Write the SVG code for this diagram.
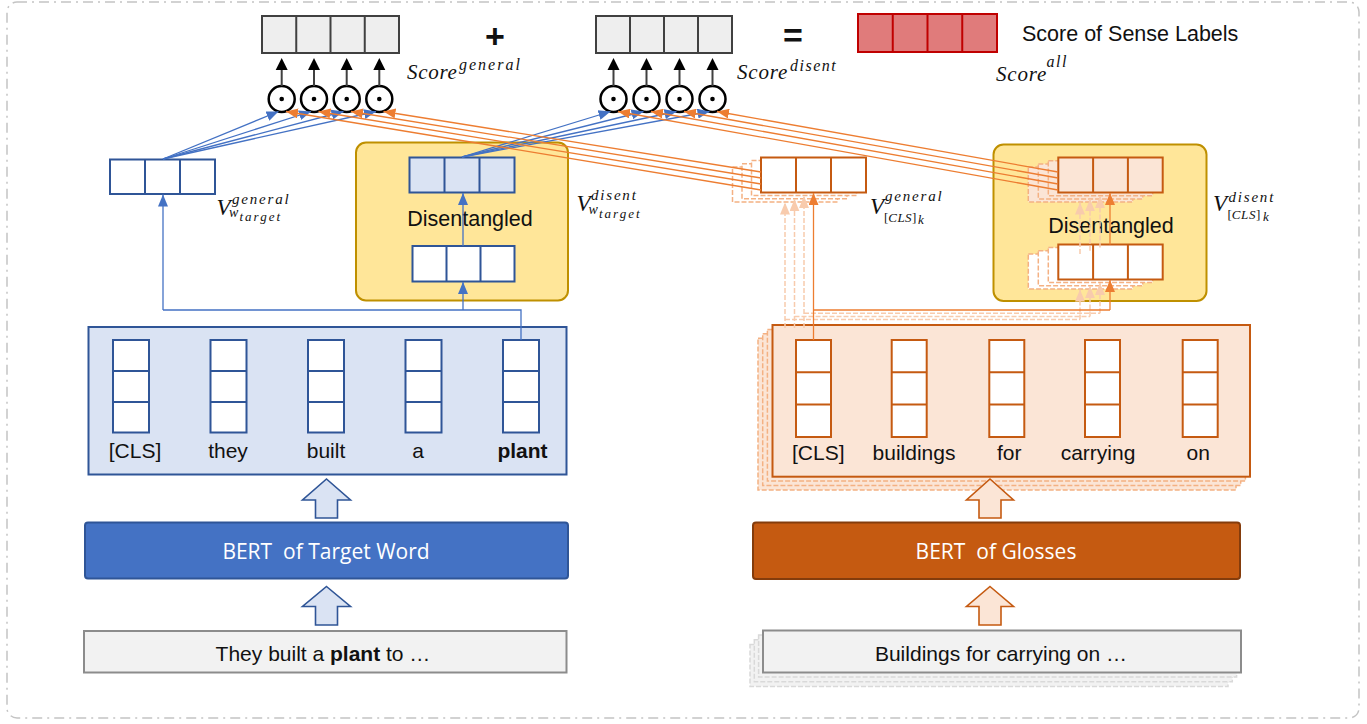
<svg xmlns="http://www.w3.org/2000/svg" width="1367" height="724" viewBox="0 0 1367 724">
<style>
.sans{font-family:"Liberation Sans",Arial,sans-serif;fill:#111}
.m{font-family:"Liberation Serif","Times New Roman",serif;font-style:italic;fill:#111}
.up{font-style:normal}
.bert{font-family:"Open Sans","Noto Sans",sans-serif;fill:#fff;font-size:21px}
.bcell{fill:#fff;stroke:#2F5597;stroke-width:2}
.ocell{fill:#fff;stroke:#C55A11;stroke-width:2}
.sdash{stroke:#F4B183;stroke-width:1.5;stroke-dasharray:5 2}
.score{fill:#EEEEEE;stroke:#404040;stroke-width:2}
.circ{fill:#fff;stroke:#000;stroke-width:2.5}
.bl{fill:none;stroke:#4472C4;stroke-width:1.3}
.ol{fill:none;stroke:#ED7D31;stroke-width:1.3}
.odl{fill:none;stroke:#F8CBAD;stroke-width:1.5;stroke-dasharray:5 2}
</style>
<defs>
<marker id="mb" viewBox="0 0 12 10" refX="12" refY="5" markerWidth="12" markerHeight="10" markerUnits="userSpaceOnUse" orient="auto"><path d="M0,0 L12,5 L0,10 z" fill="#4472C4"/></marker>
<marker id="mo" viewBox="0 0 12 10" refX="12" refY="5" markerWidth="12" markerHeight="10" markerUnits="userSpaceOnUse" orient="auto"><path d="M0,0 L12,5 L0,10 z" fill="#ED7D31"/></marker>
<marker id="mol" viewBox="0 0 12 10" refX="12" refY="5" markerWidth="12" markerHeight="10" markerUnits="userSpaceOnUse" orient="auto"><path d="M0,0 L12,5 L0,10 z" fill="#F8CBAD"/></marker>
</defs>

<rect x="7" y="2" width="1352" height="716" rx="10" fill="none" stroke="#C4C4C4" stroke-width="1.5" stroke-dasharray="10 5 2 5"/>

<g id="score-general">
<rect class="score" x="262" y="16" width="137" height="37"/>
<path d="M296.25,16V53M330.5,16V53M364.75,16V53" stroke="#404040" stroke-width="2"/>
<text class="m"><tspan x="407" y="79" font-size="21" letter-spacing="0.7">Score</tspan><tspan x="459" y="70" font-size="16" letter-spacing="2">general</tspan></text>
</g>
<g id="dots-general">
<circle class="circ" cx="281.7" cy="99" r="13"/><circle cx="281.7" cy="99" r="2.3"/>
<circle class="circ" cx="314" cy="99" r="13"/><circle cx="314" cy="99" r="2.3"/>
<circle class="circ" cx="346.7" cy="99" r="13"/><circle cx="346.7" cy="99" r="2.3"/>
<circle class="circ" cx="379.3" cy="99" r="13"/><circle cx="379.3" cy="99" r="2.3"/>
</g>
<text class="sans" x="495" y="48" font-size="34" font-weight="bold" text-anchor="middle">+</text>

<g id="score-disent">
<rect class="score" x="596" y="16" width="136" height="37"/>
<path d="M630,16V53M664,16V53M698,16V53" stroke="#404040" stroke-width="2"/>
<text class="m"><tspan x="737" y="79" font-size="21" letter-spacing="0.8">Score</tspan><tspan x="790" y="71" font-size="16" letter-spacing="1.5">disent</tspan></text>
</g>
<g id="dots-disent">
<circle class="circ" cx="613.5" cy="99" r="13"/><circle cx="613.5" cy="99" r="2.3"/>
<circle class="circ" cx="646.5" cy="99" r="13"/><circle cx="646.5" cy="99" r="2.3"/>
<circle class="circ" cx="679.5" cy="99" r="13"/><circle cx="679.5" cy="99" r="2.3"/>
<circle class="circ" cx="712.5" cy="99" r="13"/><circle cx="712.5" cy="99" r="2.3"/>
</g>
<text class="sans" x="793" y="47" font-size="34" font-weight="bold" text-anchor="middle">=</text>

<g id="score-all">
<rect x="858" y="14" width="139" height="38" fill="#E07B7B" stroke="#C00000" stroke-width="2"/>
<path d="M892.75,14V52M927.5,14V52M962.25,14V52" stroke="#C00000" stroke-width="2"/>
<text class="sans" x="1022" y="41" font-size="21.5">Score of Sense Labels</text>
<text class="m"><tspan x="996" y="81" font-size="21" letter-spacing="0.8">Score</tspan><tspan x="1046.5" y="67" font-size="16" letter-spacing="1.5">all</tspan></text>
</g>

<g id="v-general-target">
<rect class="bcell" x="110" y="159.5" width="105" height="34.5"/>
<path d="M145,159.5V194M180,159.5V194" stroke="#2F5597" stroke-width="2"/>
<text class="m"><tspan x="216.5" y="215" font-size="23">V</tspan><tspan x="232" y="204" font-size="15" letter-spacing="1.8">general</tspan><tspan x="229" y="217" font-size="14">w</tspan><tspan x="239.5" y="221" font-size="13" letter-spacing="2">target</tspan></text>
</g>

<g id="disentangled-target">
<rect x="356" y="142.5" width="212" height="158" rx="10" fill="#FFE699" stroke="#BF9000" stroke-width="2"/>
<rect x="409.5" y="157.5" width="105" height="35" fill="#DAE3F3" stroke="#2F5597" stroke-width="2"/>
<path d="M444.5,157.5V192.5M479.5,157.5V192.5" stroke="#2F5597" stroke-width="2"/>
<rect class="bcell" x="412.5" y="246" width="102" height="35.5"/>
<path d="M446.5,246V281.5M480.5,246V281.5" stroke="#2F5597" stroke-width="2"/>
<text class="sans" x="470" y="226" font-size="21.5" text-anchor="middle">Disentangled</text>
<text class="m"><tspan x="576.5" y="211" font-size="23">V</tspan><tspan x="591" y="200" font-size="15" letter-spacing="1.8">disent</tspan><tspan x="588.5" y="214" font-size="14">w</tspan><tspan x="599" y="218" font-size="13" letter-spacing="2">target</tspan></text>
</g>

<g id="v-general-cls">
<rect x="732.5" y="166.9" width="105" height="35" fill="#fff" class="sdash"/>
<rect x="742" y="163.7" width="105" height="35" fill="#fff" class="sdash"/>
<rect x="751.5" y="160.5" width="105" height="35" fill="#fff" class="sdash"/>
<rect class="ocell" x="761" y="157.5" width="105" height="35"/>
<path d="M796,157.5V192.5M831,157.5V192.5" stroke="#C55A11" stroke-width="2"/>
<text class="m"><tspan x="870" y="214" font-size="23">V</tspan><tspan x="885" y="201" font-size="15" letter-spacing="1.8">general</tspan><tspan x="884" y="222" font-size="13" class="up">[</tspan><tspan font-size="13" letter-spacing="0.4">CLS</tspan><tspan font-size="13" class="up">]</tspan><tspan x="918" y="224" font-size="13">k</tspan></text>
</g>

<g id="disentangled-cls">
<rect x="993.5" y="144.5" width="213" height="156.5" rx="10" fill="#FFE699" stroke="#BF9000" stroke-width="2"/>
<rect x="1028.3" y="167.1" width="104.4" height="35" fill="#FBE5D6" class="sdash"/>
<rect x="1038.3" y="163.9" width="104.4" height="35" fill="#FBE5D6" class="sdash"/>
<rect x="1048.3" y="160.7" width="104.4" height="35" fill="#FBE5D6" class="sdash"/>
<rect x="1058.3" y="157.5" width="104.4" height="35" fill="#FBE5D6" stroke="#C55A11" stroke-width="2"/>
<path d="M1093.1,157.5V192.5M1127.9,157.5V192.5" stroke="#C55A11" stroke-width="2"/>
<rect x="1028.3" y="254" width="104.4" height="35" fill="#fff" class="sdash"/>
<rect x="1038.3" y="250.8" width="104.4" height="35" fill="#fff" class="sdash"/>
<rect x="1048.3" y="247.6" width="104.4" height="35" fill="#fff" class="sdash"/>
<rect class="ocell" x="1058.3" y="244.5" width="104.4" height="35"/>
<path d="M1093.1,244.5V279.5M1127.9,244.5V279.5" stroke="#C55A11" stroke-width="2"/>
<text class="sans" x="1111" y="233" font-size="21.5" text-anchor="middle">Disentangled</text>
<text class="m"><tspan x="1213" y="211" font-size="23">V</tspan><tspan x="1228.5" y="201.5" font-size="15" letter-spacing="1.8">disent</tspan><tspan x="1227.5" y="219" font-size="13" class="up">[</tspan><tspan font-size="13" letter-spacing="0.6">CLS</tspan><tspan font-size="13" class="up">]</tspan><tspan x="1263" y="221" font-size="13">k</tspan></text>
</g>

<g id="target-tokens">
<rect x="88.5" y="327" width="478" height="147.5" fill="#DAE3F3" stroke="#2F5597" stroke-width="2"/>
<g stroke="#2F5597" stroke-width="2">
<rect class="bcell" x="113" y="340" width="36" height="92.5"/><path d="M113,371H149M113,402H149"/>
<rect class="bcell" x="210.5" y="340" width="36" height="92.5"/><path d="M210.5,371H246.5M210.5,402H246.5"/>
<rect class="bcell" x="308" y="340" width="36" height="92.5"/><path d="M308,371H344M308,402H344"/>
<rect class="bcell" x="405.5" y="340" width="36" height="92.5"/><path d="M405.5,371H441.5M405.5,402H441.5"/>
<rect class="bcell" x="503" y="340" width="36" height="92.5"/><path d="M503,371H539M503,402H539"/>
</g>
<g class="sans" font-size="21" text-anchor="middle">
<text x="135" y="458">[CLS]</text>
<text x="228" y="458">they</text>
<text x="326" y="458">built</text>
<text x="418" y="458">a</text>
<text x="522.5" y="458" font-weight="bold">plant</text>
</g>
</g>

<g id="gloss-tokens">
<rect x="758" y="338.2" width="478" height="151.7" fill="#FBE5D6" class="sdash"/>
<rect x="762.7" y="333.8" width="478" height="151.7" fill="#FBE5D6" class="sdash"/>
<rect x="767.4" y="329.4" width="478" height="151.7" fill="#FBE5D6" class="sdash"/>
<rect x="772.5" y="325" width="477.5" height="151.7" fill="#FBE5D6" stroke="#C55A11" stroke-width="2"/>
<g stroke="#C55A11" stroke-width="2">
<rect class="ocell" x="796" y="340" width="35" height="97"/><path d="M796,372.3H831M796,404.6H831"/>
<rect class="ocell" x="891.7" y="340" width="35" height="97"/><path d="M891.7,372.3H926.7M891.7,404.6H926.7"/>
<rect class="ocell" x="989.3" y="340" width="35" height="97"/><path d="M989.3,372.3H1024.3M989.3,404.6H1024.3"/>
<rect class="ocell" x="1085" y="340" width="35" height="97"/><path d="M1085,372.3H1120M1085,404.6H1120"/>
<rect class="ocell" x="1182.7" y="340" width="35" height="97"/><path d="M1182.7,372.3H1217.7M1182.7,404.6H1217.7"/>
</g>
<g class="sans" font-size="21" text-anchor="middle">
<text x="818.3" y="460">[CLS]</text>
<text x="914" y="460">buildings</text>
<text x="1009.3" y="460">for</text>
<text x="1098" y="460">carrying</text>
<text x="1198.3" y="460">on</text>
</g>
</g>

<g id="arrow-left-top"><path d="M326.5,479L350.5,500H337.5V518H315.5V500H302.5Z" fill="#DAE3F3" stroke="#2F5597" stroke-width="1.6"/></g>
<g id="arrow-left-bottom"><path d="M326.5,586.5L350.5,606.5H337.5V625H315.5V606.5H302.5Z" fill="#DAE3F3" stroke="#2F5597" stroke-width="1.6"/></g>
<g id="arrow-right-top"><path d="M990,479L1013.5,500H1001V518H979V500H966.5Z" fill="#FBE5D6" stroke="#C55A11" stroke-width="1.6"/></g>
<g id="arrow-right-bottom"><path d="M990,586.5L1013.5,606.5H1001V625H979V606.5H966.5Z" fill="#FBE5D6" stroke="#C55A11" stroke-width="1.6"/></g>

<g id="bert-target">
<rect x="85" y="522.5" width="483" height="56" rx="3" fill="#4472C4" stroke="#2F5597" stroke-width="2"/>
<text class="bert" x="326" y="559" text-anchor="middle" xml:space="preserve">BERT  of Target Word</text>
</g>
<g id="bert-glosses">
<rect x="753" y="522.5" width="487" height="56.5" rx="3" fill="#C55A11" stroke="#843C0C" stroke-width="2"/>
<text class="bert" x="996" y="559" text-anchor="middle" xml:space="preserve">BERT  of Glosses</text>
</g>

<g id="input-target">
<rect x="84" y="631" width="482.5" height="41.5" fill="#F2F2F2" stroke="#8C8C8C" stroke-width="2"/>
<text class="sans" x="323" y="661" font-size="21" text-anchor="middle">They built a <tspan font-weight="bold">plant</tspan> to …</text>
</g>
<g id="input-glosses">
<rect x="750" y="644.5" width="478" height="42" fill="#F2F2F2" stroke="#D9D9D9" stroke-width="1.5" stroke-dasharray="5 2"/>
<rect x="754.3" y="639.8" width="478" height="42" fill="#F2F2F2" stroke="#D9D9D9" stroke-width="1.5" stroke-dasharray="5 2"/>
<rect x="758.6" y="635.1" width="478" height="42" fill="#F2F2F2" stroke="#D9D9D9" stroke-width="1.5" stroke-dasharray="5 2"/>
<rect x="763" y="630.5" width="478" height="42" fill="#F2F2F2" stroke="#8C8C8C" stroke-width="2"/>
<text class="sans" x="1001" y="661" font-size="21" text-anchor="middle">Buildings for carrying on …</text>
</g>

<g id="connectors">
<g stroke="#404040" stroke-width="2">
<path d="M281.7,86V69M314,86V69M346.7,86V69M379.3,86V69M613.5,86V69M646.5,86V69M679.5,86V69M712.5,86V69"/>
</g>
<g fill="#000">
<path d="M281.7,58l6,12h-12z"/><path d="M314,58l6,12h-12z"/><path d="M346.7,58l6,12h-12z"/><path d="M379.3,58l6,12h-12z"/>
<path d="M613.5,58l6,12h-12z"/><path d="M646.5,58l6,12h-12z"/><path d="M679.5,58l6,12h-12z"/><path d="M712.5,58l6,12h-12z"/>
</g>
<path class="bl" marker-end="url(#mb)" d="M163,159L278.5,111.5"/>
<path class="bl" marker-end="url(#mb)" d="M163,159L311,111.5"/>
<path class="bl" marker-end="url(#mb)" d="M163,159L343.5,111.5"/>
<path class="bl" marker-end="url(#mb)" d="M163,159L376,111.5"/>
<path class="bl" marker-end="url(#mb)" d="M462,157L610.5,111.5"/>
<path class="bl" marker-end="url(#mb)" d="M462,157L643.5,111.5"/>
<path class="bl" marker-end="url(#mb)" d="M462,157L676.5,111.5"/>
<path class="bl" marker-end="url(#mb)" d="M462,157L709.5,111.5"/>
<path class="ol" marker-end="url(#mo)" d="M761,190L286,111.5"/>
<path class="ol" marker-end="url(#mo)" d="M761,184L318.5,111.5"/>
<path class="ol" marker-end="url(#mo)" d="M761,178L351,111.5"/>
<path class="ol" marker-end="url(#mo)" d="M761,172L383.5,111.5"/>
<path class="ol" marker-end="url(#mo)" d="M1058,190L618,111.5"/>
<path class="ol" marker-end="url(#mo)" d="M1058,184L651,111.5"/>
<path class="ol" marker-end="url(#mo)" d="M1058,178L684,111.5"/>
<path class="ol" marker-end="url(#mo)" d="M1058,172L717,111.5"/>
<path class="bl" d="M521,340V310H163"/>
<path class="bl" marker-end="url(#mb)" d="M163,310V194.5"/>
<path class="bl" marker-end="url(#mb)" d="M463,310V282"/>
<path class="bl" marker-end="url(#mb)" d="M463,246V193"/>
<path class="odl" marker-end="url(#mol)" d="M785,328V202.5"/>
<path class="odl" d="M785,319.6H1080"/>
<path class="odl" marker-end="url(#mol)" d="M1080,319.6V289.5"/>
<path class="odl" marker-end="url(#mol)" d="M1080,254V202.5"/>
<path class="odl" marker-end="url(#mol)" d="M794.5,328V199.3"/>
<path class="odl" d="M794.5,316.4H1090"/>
<path class="odl" marker-end="url(#mol)" d="M1090,316.4V286.3"/>
<path class="odl" marker-end="url(#mol)" d="M1090,250.8V199.3"/>
<path class="odl" marker-end="url(#mol)" d="M804,328V196.1"/>
<path class="odl" d="M804,313.2H1100"/>
<path class="odl" marker-end="url(#mol)" d="M1100,313.2V283.1"/>
<path class="odl" marker-end="url(#mol)" d="M1100,247.6V196.1"/>
<path class="ol" marker-end="url(#mo)" d="M813.5,340V193"/>
<path class="ol" d="M813.5,310H1110"/>
<path class="ol" marker-end="url(#mo)" d="M1110,310V280"/>
<path class="ol" marker-end="url(#mo)" d="M1110,244.5V193"/>
</g>
</svg>
